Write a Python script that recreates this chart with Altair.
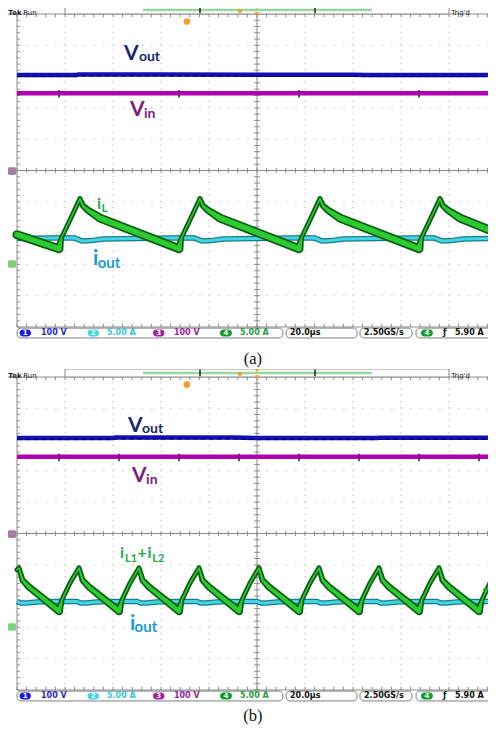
import altair as alt
import pandas as pd
import numpy as np

# ---------------- data: time in microseconds, amplitude in divisions ----------------
# panel (a): single inductor current iL
A_GREEN_T = [0, 17.5, 18.54, 22.08, 26.25, 27.5, 29.58, 34.58,
             67.5, 68.54, 72.08, 76.25, 77.5, 79.58, 84.58,
             117.5, 118.54, 122.08, 126.25, 127.5, 129.58, 134.58,
             167.5, 168.54, 172.08, 176.25, 177.5, 179.58, 184.58, 200]
A_GREEN_V = [-2.05, -2.50, -2.15, -1.58, -0.90, -1.13, -1.27, -1.52,
             -2.50, -2.15, -1.58, -0.90, -1.13, -1.27, -1.52,
             -2.50, -2.15, -1.58, -0.90, -1.13, -1.27, -1.52,
             -2.50, -2.15, -1.58, -0.90, -1.13, -1.27, -1.52, -2.00]
A_GREEN_W = [7, 7, 3, 3, 3, 4, 5, 7,
             7, 3, 3, 3, 4, 5, 7,
             7, 3, 3, 3, 4, 5, 7,
             7, 3, 3, 3, 4, 5, 7, 7]

A_CYAN_T = [0, 20, 24, 27, 31, 36, 50, 70, 74, 77, 81, 86, 100, 120, 124, 127, 131, 136,
            150, 170, 174, 177, 181, 186, 200]
A_CYAN_V = [-2.17, -2.15, -2.16, -2.25, -2.24, -2.19, -2.17, -2.15, -2.16, -2.25, -2.24, -2.19,
            -2.17, -2.15, -2.16, -2.25, -2.24, -2.19, -2.17, -2.15, -2.16, -2.25, -2.24, -2.19, -2.17]

A_VOUT_T = [0, 25, 25.5, 60, 100, 140, 145, 200]
A_VOUT_V = [3.05, 3.05, 3.07, 3.07, 3.06, 3.06, 3.05, 3.05]
A_VIN_T = [0, 200]
A_VIN_V = [2.47, 2.47]
A_SPIKES = [17.5, 67.5, 117.5, 167.5]

# panel (b): interleaved sum iL1+iL2
B_GREEN_T = [0, 0.83, 2.29, 5.0, 17.5, 18.75, 22.08,
             25.83, 27.29, 30.0, 42.5, 43.75, 47.08,
             50.83, 52.29, 55.0, 67.5, 68.75, 72.08,
             75.83, 77.29, 80.0, 92.5, 93.75, 97.08,
             100.83, 102.29, 105.0, 117.5, 118.75, 122.08,
             125.83, 127.29, 130.0, 142.5, 143.75, 147.08,
             150.83, 152.29, 155.0, 167.5, 168.75, 172.08,
             175.83, 177.29, 180.0, 192.5, 193.75, 197.08, 200]
B_GREEN_V = [-1.16, -1.10, -1.49, -1.71, -2.48, -2.12, -1.58,
             -1.10, -1.49, -1.71, -2.48, -2.12, -1.58,
             -1.10, -1.49, -1.71, -2.48, -2.12, -1.58,
             -1.10, -1.49, -1.71, -2.48, -2.12, -1.58,
             -1.10, -1.49, -1.71, -2.48, -2.12, -1.58,
             -1.10, -1.49, -1.71, -2.48, -2.12, -1.58,
             -1.10, -1.49, -1.71, -2.48, -2.12, -1.58,
             -1.10, -1.49, -1.71, -2.48, -2.12, -1.58, -1.21]
B_GREEN_W = [3, 3, 4, 5, 6, 3, 3,
             3, 4, 5, 6, 3, 3,
             3, 4, 5, 6, 3, 3,
             3, 4, 5, 6, 3, 3,
             3, 4, 5, 6, 3, 3,
             3, 4, 5, 6, 3, 3,
             3, 4, 5, 6, 3, 3,
             3, 4, 5, 6, 3, 3, 3]

B_CYAN_T = [0, 1.5, 4, 8, 15, 25, 26.5, 29, 33, 40, 50, 51.5, 54, 58, 65, 75, 76.5, 79, 83, 90,
            100, 101.5, 104, 108, 115, 125, 126.5, 129, 133, 140, 150, 151.5, 154, 158, 165,
            175, 176.5, 179, 183, 190, 200]
B_CYAN_V = [-2.17, -2.22, -2.22, -2.19, -2.17] * 8 + [-2.17]

B_VOUT_T = [0, 40, 41, 90, 100, 150, 151, 200]
B_VOUT_V = [3.05, 3.05, 3.07, 3.07, 3.05, 3.05, 3.06, 3.06]
B_VIN_T = [0, 200]
B_VIN_V = [2.45, 2.45]
B_SPIKES = [17.5, 42.5, 67.5, 92.5, 117.5, 142.5, 167.5, 192.5]

# labels: text, t, v, font size, colour
NAVY, PURP, GRN, BLU = "#16286c", "#7c207c", "#22a84a", "#1f9ad6"
A_LABELS = [("V", 44.6, 3.53, 21, NAVY), ("out", 50.8, 3.50, 14, NAVY),
            ("V", 47.1, 1.74, 21, PURP), ("in", 52.9, 1.68, 14, PURP),
            ("i", 33.3, -1.23, 16, GRN), ("L", 35.2, -1.33, 12, GRN),
            ("i", 31.7, -3.02, 21, BLU), ("out", 33.6, -3.12, 15, BLU)]
B_LABELS = [("V", 46.3, 3.24, 21, NAVY), ("out", 52.1, 3.21, 14, NAVY),
            ("V", 47.9, 1.645, 21, PURP), ("in", 53.8, 1.58, 14, PURP),
            ("i", 42.9, -0.78, 16, GRN), ("L1", 45.0, -0.91, 11, GRN),
            ("+", 50.2, -0.78, 16, GRN), ("i", 54.4, -0.78, 16, GRN),
            ("L2", 56.4, -0.91, 11, GRN),
            ("i", 47.1, -3.08, 21, BLU), ("out", 49.0, -3.15, 15, BLU)]

# header texts: text, t, bold
HEADER = [("Tek", -3.6, "bold"), ("Run", 2.6, "normal"), ("Trig'd", 180.9, "normal")]

# status bar items
CH_BADGES = [("1", 1.04, 5.83, "#1c1ce0"), ("2", 29.38, 34.17, "#3fd6e6"),
             ("3", 56.67, 61.46, "#a020a0"), ("4", 84.58, 89.58, "#129c32"),
             ("4", 168.3, 173.3, "#129c32")]
STATUS_TEXT = [("100 V", 10.0, "#2a2ad0"), ("5.00 A", 37.5, "#36c6d6"),
               ("100 V", 65.4, "#a020a0"), ("5.00 A", 92.9, "#1ea03e"),
               ("20.0\u03bcs", 113.75, "#111111"), ("2.50GS/s", 144.6, "#111111"),
               ("\u0192", 177.5, "#111111"), ("5.90 A", 182.5, "#111111")]
STATUS_BOXES = [(0, 110.8), (112.1, 141.7), (142.9, 164.6), (166.25, 202)]

VERT_DIV = [20, 40, 60, 80, 120, 140, 160, 180]
HORZ_DIV = [-4, -3, -2, -1, 1, 2, 3, 4]

# ---------------- scales ----------------
XS = alt.Scale(domain=[-3.75, 196.25], nice=False, zero=False)
W = 480
H_A, H_B = 361, 357
YD_A = [-6.3419, 5.1917]
YD_B = [-6.1502, 5.2556]


def make(ys):
    YS = alt.Scale(domain=ys, nice=False, zero=False)

    def X(f="t"):
        return alt.X(f + ":Q", scale=XS, axis=None)

    def Y(f="v"):
        return alt.Y(f + ":Q", scale=YS, axis=None)

    def rules(df, color, width=1, dash=None):
        kw = dict(color=color, strokeWidth=width, clip=True)
        if dash:
            kw["strokeDash"] = dash
        return alt.Chart(df).mark_rule(**kw).encode(
            x=X("t"), x2="t2:Q", y=Y("v"), y2="v2:Q")

    return X, Y, rules


def grid_layers(X, Y, rules):
    L = []
    vt = pd.DataFrame({"t": VERT_DIV, "t2": VERT_DIV, "v": -5.0, "v2": 5.0})
    L.append(rules(vt, "#a8a8a8", 1, [1, 5.26]))
    hz = pd.DataFrame({"t": 0.0, "t2": 200.0, "v": HORZ_DIV, "v2": HORZ_DIV})
    L.append(rules(hz, "#a8a8a8", 1, [1, 8.6]))
    solid = pd.DataFrame({"t": [0, -3.75, 0, 0, 100],
                          "t2": [0, 200, 200, 200, 100],
                          "v": [-5, 5, -5, 0, -5],
                          "v2": [5, 5, -5, 0, 5]})
    L.append(rules(solid, "#8a8a8a", 1))
    tx = np.arange(0, 200.1, 4.0)
    vy = np.round(np.arange(-5, 5.01, 0.2), 3)
    ticks = pd.concat([
        pd.DataFrame({"t": tx, "t2": tx, "v": 5.0, "v2": 4.9}),
        pd.DataFrame({"t": tx, "t2": tx, "v": -5.0, "v2": -4.9}),
        pd.DataFrame({"t": tx, "t2": tx, "v": -0.08, "v2": 0.08}),
        pd.DataFrame({"t": 0.0, "t2": 1.2, "v": vy, "v2": vy}),
        pd.DataFrame({"t": 98.8, "t2": 101.2, "v": vy, "v2": vy}),
    ])
    L.append(rules(ticks, "#8a8a8a", 1))
    return L


def trace_layers(X, Y, rules, gt, gv, gw, ct, cv, ot, ov, it, iv, spikes):
    L = []
    vin = pd.DataFrame({"t": it, "v": iv})
    L.append(alt.Chart(vin).mark_line(color="#b000b0", strokeWidth=4.5, clip=True).encode(x=X(), y=Y()))
    sp = pd.DataFrame({"t": spikes, "t2": spikes, "v": iv[0] - 0.14, "v2": iv[0] + 0.10})
    L.append(rules(sp, "#5a005a", 1.5))
    vout = pd.DataFrame({"t": ot, "v": ov})
    L.append(alt.Chart(vout).mark_line(color="#1212b4", strokeWidth=4.5, clip=True).encode(x=X(), y=Y()))
    vout2 = pd.DataFrame({"t": ot, "v": [x - 0.05 for x in ov]})
    L.append(alt.Chart(vout2).mark_line(color="#000070", strokeWidth=1, strokeDash=[5, 3],
                                        clip=True).encode(x=X(), y=Y()))
    cy = pd.DataFrame({"t": ct, "v": cv})
    L.append(alt.Chart(cy).mark_line(color="#10808e", strokeWidth=5.5, clip=True).encode(x=X(), y=Y()))
    L.append(alt.Chart(cy).mark_line(color="#48d2e2", strokeWidth=3, clip=True).encode(x=X(), y=Y()))
    g = pd.DataFrame({"t": gt, "v": gv, "w": gw})
    g["wo"] = g["w"] + 2
    g["wi"] = (g["w"] - 1.5).clip(lower=1.2)
    L.append(alt.Chart(g).mark_trail(color="#0b5e14", clip=True).encode(
        x=X(), y=Y(), size=alt.Size("wo:Q", scale=None, legend=None)))
    L.append(alt.Chart(g).mark_trail(color="#2ccc30", clip=True).encode(
        x=X(), y=Y(), size=alt.Size("wi:Q", scale=None, legend=None)))
    return L


def label_layer(X, Y, labels):
    df = pd.DataFrame(labels, columns=["s", "t", "v", "fs", "c"])
    return alt.Chart(df).mark_text(align="left", baseline="alphabetic", font="Lato",
                                   fontWeight="bold", clip=True).encode(
        x=X(), y=Y(), text="s:N", size=alt.Size("fs:Q", scale=None, legend=None),
        color=alt.Color("c:N", scale=None, legend=None))


def chrome_layers(X, Y, rules, caption, cap_v, marker_v):
    L = []
    # header
    box = pd.DataFrame({"t": [20.0], "t2": [180.0], "v": [5.0], "v2": [5.256]})
    L.append(alt.Chart(box).mark_rect(fill="white", stroke="#8a8a8a", strokeWidth=1, clip=True).encode(
        x=X(), x2="t2:Q", y=Y(), y2="v2:Q"))
    gb = pd.DataFrame({"t": [52.5], "t2": [147.9], "v": [5.128], "v2": [5.128]})
    L.append(rules(gb, "#9ad89a", 2.5))
    br = pd.DataFrame({"t": [76.25, 124.17], "t2": [76.25, 124.17], "v": 5.02, "v2": 5.24})
    L.append(rules(br, "#222222", 1.5))
    hdr = pd.DataFrame(HEADER, columns=["s", "t", "fw"])
    hdr["v"] = 5.16
    L.append(alt.Chart(hdr[hdr.fw == "bold"]).mark_text(align="left", baseline="top", font="DejaVu Sans",
                                                        fontSize=7, fontWeight="bold", color="#222").encode(
        x=X(), y=Y(), text="s:N"))
    L.append(alt.Chart(hdr[hdr.fw == "normal"]).mark_text(align="left", baseline="top", font="DejaVu Sans",
                                                          fontSize=7, color="#222").encode(
        x=X(), y=Y(), text="s:N"))
    om = pd.DataFrame({"t": [100, 100], "v": [5.21, 4.99]})
    L.append(alt.Chart(om).mark_point(shape="triangle-down", filled=True, size=22, color="#f0a020",
                                      opacity=1, clip=True).encode(x=X(), y=Y()))
    ou = pd.DataFrame({"t": [70.8, 92.9], "v": [4.76, 5.10], "sz": [45, 20]})
    L.append(alt.Chart(ou).mark_point(shape="circle", filled=True, color="#f0a030", opacity=1,
                                      clip=True).encode(
        x=X(), y=Y(), size=alt.Size("sz:Q", scale=None, legend=None)))
    # left channel tags and right trigger marker
    tags = pd.DataFrame({"t": [-3.75, -3.75], "t2": [-0.4, -0.4], "v": [0.10, -2.87],
                         "v2": [-0.14, -3.11], "c": ["#a47ea4", "#80d080"]})
    L.append(alt.Chart(tags).mark_rect(cornerRadius=1.5, clip=True).encode(
        x=X(), x2="t2:Q", y=Y(), y2="v2:Q", color=alt.Color("c:N", scale=None)))
    trg = pd.DataFrame({"t": [194.8], "v": [marker_v]})
    L.append(alt.Chart(trg).mark_point(shape="cross", filled=True, size=14, color="#20b020",
                                       opacity=1, clip=True).encode(x=X(), y=Y()))
    # status bar
    sb = pd.DataFrame(STATUS_BOXES, columns=["t", "t2"])
    sb["v"], sb["v2"] = -5.035, -5.35
    L.append(alt.Chart(sb).mark_rect(fillOpacity=0, stroke="#808080", strokeWidth=1, cornerRadius=4,
                                     clip=True).encode(
        x=X(), x2="t2:Q", y=Y(), y2="v2:Q"))
    bd = pd.DataFrame(CH_BADGES, columns=["s", "t", "t2", "c"])
    bd["v"], bd["v2"], bd["tm"] = -5.08, -5.30, (bd["t"] + bd["t2"]) / 2
    bd["vm"] = -5.19
    L.append(alt.Chart(bd).mark_rect(cornerRadius=4, clip=True).encode(
        x=X(), x2="t2:Q", y=Y(), y2="v2:Q", color=alt.Color("c:N", scale=None)))
    L.append(alt.Chart(bd).mark_text(font="DejaVu Sans", fontSize=7, fontWeight="bold", color="white",
                                     baseline="middle", clip=True).encode(x=X("tm"), y=Y("vm"), text="s:N"))
    st = pd.DataFrame(STATUS_TEXT, columns=["s", "t", "c"])
    st["v"] = -5.19
    L.append(alt.Chart(st).mark_text(align="left", baseline="middle", font="DejaVu Sans", fontSize=8,
                                     fontWeight="bold", clip=True).encode(
        x=X(), y=Y(), text="s:N", color=alt.Color("c:N", scale=None)))
    cap = pd.DataFrame({"s": [caption], "t": [98.3], "v": [cap_v]})
    L.append(alt.Chart(cap).mark_text(font="Liberation Serif", fontSize=16.5, baseline="middle",
                                      color="#111", clip=True).encode(x=X(), y=Y(), text="s:N"))
    return L


def panel(ys, height, trace_args, labels, caption, cap_v, marker_v):
    X, Y, rules = make(ys)
    layers = (grid_layers(X, Y, rules) + trace_layers(X, Y, rules, *trace_args)
              + [label_layer(X, Y, labels)] + chrome_layers(X, Y, rules, caption, cap_v, marker_v))
    return alt.layer(*layers).properties(width=W, height=height)


pa = panel(YD_A, H_A, (A_GREEN_T, A_GREEN_V, A_GREEN_W, A_CYAN_T, A_CYAN_V,
                       A_VOUT_T, A_VOUT_V, A_VIN_T, A_VIN_V, A_SPIKES), A_LABELS, "(a)", -6.02, -1.79)
pb = panel(YD_B, H_B, (B_GREEN_T, B_GREEN_V, B_GREEN_W, B_CYAN_T, B_CYAN_V,
                       B_VOUT_T, B_VOUT_V, B_VIN_T, B_VIN_V, B_SPIKES), B_LABELS, "(b)", -5.82, -1.80)

chart = alt.vconcat(pa, pb, spacing=0).properties(
    padding={"left": 0, "top": 0, "right": 0, "bottom": 0}
).configure_view(stroke=None)

chart.save("out.html", embed_options={"renderer": "svg", "actions": False})
